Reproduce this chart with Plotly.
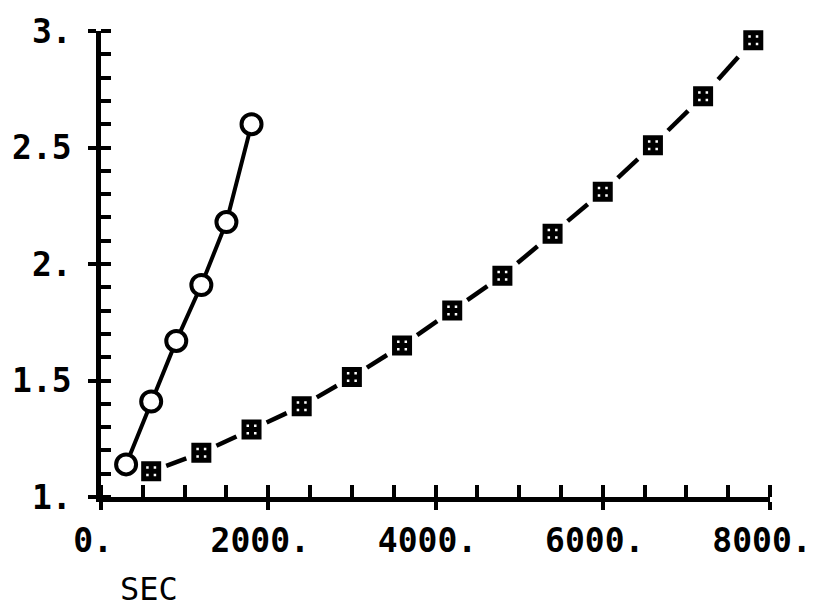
import plotly.graph_objects as go

# Elapsed time (s) and measured ratio for the two runs
t_fast = [300, 600, 900, 1200, 1500, 1800]
r_fast = [1.14, 1.41, 1.67, 1.91, 2.18, 2.60]

t_slow = [600, 1200, 1800, 2400, 3000, 3600, 4200, 4800, 5400, 6000, 6600, 7200, 7800]
r_slow = [1.11, 1.19, 1.29, 1.39, 1.515, 1.65, 1.80, 1.95, 2.13, 2.31, 2.51, 2.72, 2.96]

x_ticks = [0, 2000, 4000, 6000, 8000]
x_labels = ["0.", "2000.", "4000.", "6000.", "8000."]
y_ticks = [1, 1.5, 2, 2.5, 3]
y_labels = ["1.", "1.5", "2.", "2.5", "3."]

FONT = "DejaVu Sans Mono"
INK = "black"

fig = go.Figure()

# solid connecting line for the fast run
fig.add_trace(go.Scatter(x=t_fast, y=r_fast, mode="lines",
                         line=dict(color=INK, width=4), hoverinfo="skip",
                         showlegend=False, cliponaxis=False))

# one dash centred between each pair of neighbouring points of the slow run
for i in range(len(t_slow) - 1):
    x0, x1 = t_slow[i], t_slow[i + 1]
    y0, y1 = r_slow[i], r_slow[i + 1]
    a, b = 0.3, 0.7
    fig.add_trace(go.Scatter(x=[x0 + a * (x1 - x0), x0 + b * (x1 - x0)],
                             y=[y0 + a * (y1 - y0), y0 + b * (y1 - y0)],
                             mode="lines", line=dict(color=INK, width=4.5),
                             hoverinfo="skip", showlegend=False))

fig.add_trace(go.Scatter(x=t_fast, y=r_fast, mode="markers",
                         marker=dict(symbol="circle", size=20, color="white",
                                     line=dict(color=INK, width=4)),
                         showlegend=False, cliponaxis=False))
fig.add_trace(go.Scatter(x=t_slow, y=r_slow, mode="markers",
                         marker=dict(symbol="square-cross-open", size=15, color=INK,
                                     line=dict(color=INK, width=5)),
                         showlegend=False, cliponaxis=False))

# second pair of axes: inward half of the major ticks
fig.add_trace(go.Scatter(x=[None], y=[None], xaxis="x2", yaxis="y2",
                         showlegend=False, hoverinfo="skip"))

tickfont = dict(family=FONT, size=33, color=INK, weight="bold")

fig.update_layout(
    width=826, height=613,
    margin=dict(l=101, r=56, t=25, b=116),
    paper_bgcolor="white", plot_bgcolor="white",
    xaxis=dict(range=[0, 8000], tickmode="array", tickvals=x_ticks, ticktext=x_labels,
               ticks="outside", ticklen=8, tickwidth=3.5, tickcolor=INK,
               showline=True, linewidth=4.5, linecolor=INK, showgrid=False, zeroline=False,
               tickfont=tickfont, ticklabelstandoff=3, ticklabelshift=-8,
               minor=dict(tickmode="linear", tick0=0, dtick=500, ticks="inside",
                          ticklen=12, tickwidth=3.5, tickcolor=INK, showgrid=False)),
    yaxis=dict(range=[1, 3], tickmode="array", tickvals=y_ticks, ticktext=y_labels,
               ticks="outside", ticklen=8, tickwidth=3.5, tickcolor=INK,
               showline=True, linewidth=4.5, linecolor=INK, showgrid=False, zeroline=False,
               tickfont=tickfont, ticklabelstandoff=10,
               minor=dict(tickmode="linear", tick0=1, dtick=0.1, ticks="inside",
                          ticklen=10, tickwidth=3.5, tickcolor=INK, showgrid=False)),
    xaxis2=dict(range=[0, 8000], overlaying="x", anchor="y2", side="bottom",
                tickmode="array", tickvals=x_ticks, showticklabels=False,
                ticks="inside", ticklen=12, tickwidth=3.5, tickcolor=INK,
                showline=False, showgrid=False, zeroline=False),
    yaxis2=dict(range=[1, 3], overlaying="y", anchor="x2", side="left",
                tickmode="array", tickvals=y_ticks, showticklabels=False,
                ticks="inside", ticklen=10, tickwidth=3.5, tickcolor=INK,
                showline=False, showgrid=False, zeroline=False),
    annotations=[dict(text="SEC", xref="paper", yref="paper", x=0.072, y=-0.197,
                      xanchor="center", yanchor="middle", showarrow=False,
                      font=dict(family=FONT, size=32, color=INK))],
)

fig.write_html("out.html")
